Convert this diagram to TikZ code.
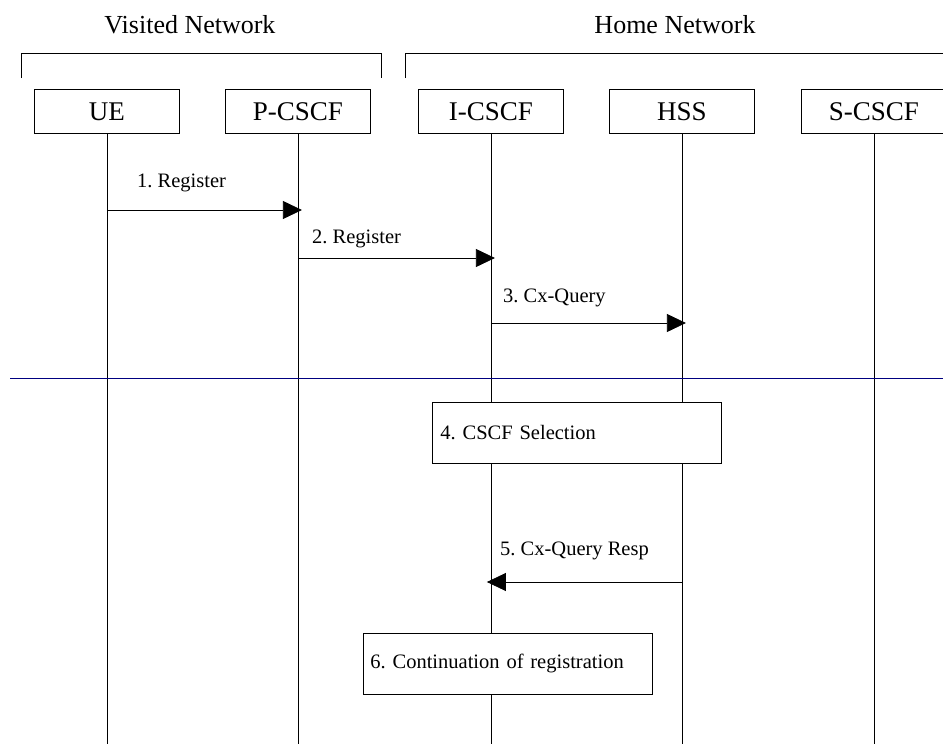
\documentclass[tikz,border=0pt]{standalone}
\usepackage{fontspec}
\setmainfont{Liberation Serif}
\usetikzlibrary{arrows.meta}
\definecolor{sepblue}{RGB}{0,0,128}
\frenchspacing
\begin{document}
\begin{tikzpicture}[x=1pt,y=-1pt,
  entity/.style={draw,line width=0.8pt,minimum width=145pt,minimum height=44pt,inner sep=0pt,font=\fontsize{27}{30}\selectfont,anchor=north west},
  msg/.style={line width=0.8pt,-{Triangle[length=19pt,width=18pt]},shorten >=-4pt},
  lbl/.style={anchor=base west,inner sep=0pt,font=\fontsize{20.5}{24}\selectfont},
  hdr/.style={font=\fontsize{26}{30}\selectfont,inner sep=0pt},
  life/.style={line width=0.8pt},
  stepbox/.style={draw,fill=white,line width=0.8pt,minimum height=61pt,text width=273pt,inner xsep=8pt,inner ysep=0pt,align=left,font=\fontsize{20.5}{24}\selectfont,anchor=north west}]
\useasboundingbox (0,0) rectangle (943,744);

% headers
\node[hdr] (vis) at (190,25) {Visited Network};
\node[hdr] (home) at (675,25) {Home Network};
\draw[line width=0.8pt] (21,78) -- (21,53) -- (381,53) -- (381,78);
\draw[line width=0.8pt] (405,78) -- (405,53) -- (950,53);

% entities
\node[entity] (ue) at (34,89) {UE};
\node[entity] (pcscf) at (225,89) {P-CSCF};
\node[entity] (icscf) at (418,89) {I-CSCF};
\node[entity] (hss) at (609,89) {HSS};
\node[entity] (scscf) at (801,89) {S-CSCF};

% lifelines
\foreach \n in {ue,pcscf,icscf,hss,scscf}{
  \coordinate (\n-end) at (\n.south |- 0,744);
  \draw[life] (\n.south) -- (\n-end);
}

% messages
\coordinate (m1s) at (ue.south |- 0,210);
\coordinate (m1e) at (pcscf.south |- 0,210);
\draw[msg] (m1s) -- (m1e);
\node[lbl] (l1) at (137,187) {1. Register};

\coordinate (m2s) at (pcscf.south |- 0,258);
\coordinate (m2e) at (icscf.south |- 0,258);
\draw[msg] (m2s) -- (m2e);
\node[lbl] (l2) at (312,243) {2. Register};

\coordinate (m3s) at (icscf.south |- 0,323);
\coordinate (m3e) at (hss.south |- 0,323);
\draw[msg] (m3s) -- (m3e);
\node[lbl] (l3) at (503,302) {3. Cx-Query};

% separator
\draw[sepblue,line width=1pt] (10,378) -- (943,378);

% step 4
\node[stepbox] (s4) at (432,402) {4. CSCF Selection};

% message 5
\coordinate (m5s) at (hss.south |- 0,582);
\coordinate (m5e) at (icscf.south |- 0,582);
\draw[msg] (m5s) -- (m5e);
\node[lbl] (l5) at (500,555) {5. Cx-Query Resp};

% step 6
\node[stepbox,inner xsep=7pt,text width=275pt] (s6) at (363,633) {6. Continuation of registration};
\end{tikzpicture}
\end{document}
